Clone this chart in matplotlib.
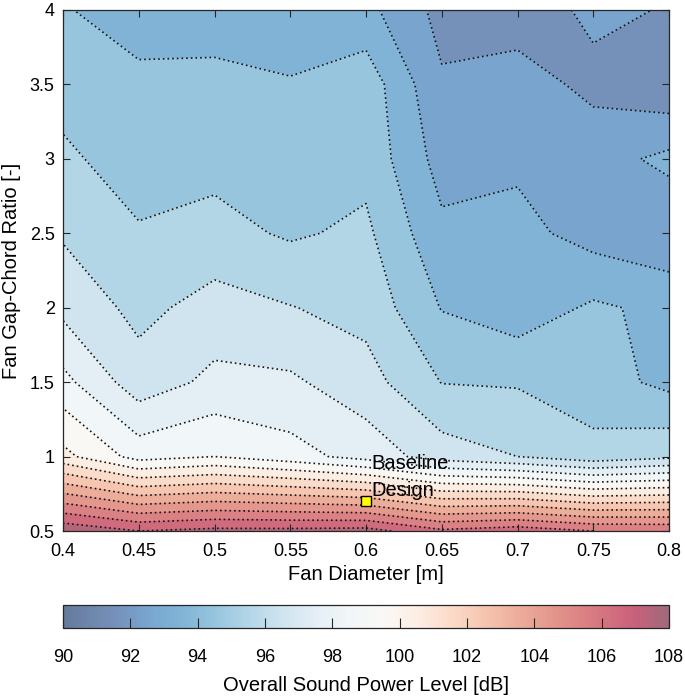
import matplotlib
matplotlib.use('Agg')
import matplotlib.pyplot as plt
import numpy as np
from matplotlib.colors import LinearSegmentedColormap, Normalize
from matplotlib.cm import ScalarMappable
from matplotlib.ticker import FormatStrFormatter

plt.rcParams['font.family'] = ['Liberation Sans', 'DejaVu Sans']

# Grid of the sweep
fan_diameter = [0.4, 0.45, 0.5, 0.55, 0.6, 0.65, 0.7, 0.75, 0.8]
gap_chord = [0.5, 1.0, 1.5, 2.0, 2.5, 3.0, 3.5, 4.0]

# Overall sound power level [dB] along fan diameter, one list per gap-chord ratio
spl_gc050 = [107.8, 107.0, 107.3, 107.3, 107.4, 106.2, 106.6, 106.0, 105.9]
spl_gc100 = [100.3, 98.6, 99.0, 98.4, 97.6, 96.5, 96.0, 95.34, 95.78]
spl_gc150 = [98.3, 96.43, 97.25, 97.17, 96.4, 94.97, 94.91, 94.44, 93.73]
spl_gc200 = [96.73, 95.71, 96.4, 96.04, 95.66, 93.95, 93.39, 94.16, 93.74]
spl_gc250 = [95.88, 95.1, 95.33, 94.87, 95.2, 93.22, 93.33, 92.59, 92.2]
spl_gc300 = [95.2, 94.5, 94.69, 94.5, 94.7, 92.6, 92.8, 92.58, 93.25]
spl_gc350 = [94.6, 94.15, 94.2, 94.1, 94.6, 92.12, 92.43, 91.75, 91.2]
spl_gc400 = [94.05, 93.7, 93.65, 93.2, 93.29, 91.68, 91.5, 92.2, 91.94]

# baseline design point
baseline_d = 0.6
baseline_gc = 0.7

spl_min, spl_max = 90, 108

# colour map (value, colour)
cmap_pts = [(90.0, '#667b9c'), (91.5, '#7590b9'), (92.5, '#79a5cf'), (93.5, '#80b4d6'),
            (94.5, '#96c5de'), (95.5, '#b3d6e7'), (96.5, '#cfe4ef'), (97.5, '#e4eff5'),
            (98.5, '#f1f6f8'), (99.5, '#f9f8f6'), (100.5, '#fdeee4'), (101.5, '#fbdccb'),
            (102.5, '#f6c6b1'), (103.5, '#edae9c'), (104.5, '#e4988d'), (105.5, '#db8183'),
            (106.5, '#cf6b7d'), (107.0, '#c8617a'), (108.0, '#a06a7a')]
cmap = LinearSegmentedColormap.from_list(
    'spl', [((v - spl_min) / (spl_max - spl_min), c) for v, c in cmap_pts])
norm = Normalize(spl_min, spl_max)

X, Y = np.meshgrid(fan_diameter, gap_chord)
Z = np.array([spl_gc050, spl_gc100, spl_gc150, spl_gc200,
              spl_gc250, spl_gc300, spl_gc350, spl_gc400])
levels = np.arange(spl_min, spl_max + 1, 1)

fig = plt.figure(figsize=(6.85, 6.97), dpi=100)
ax = fig.add_axes([63 / 685, 166 / 697, 606 / 685, 521 / 697])

ax.contourf(X, Y, Z, levels=levels, cmap=cmap, norm=norm)
ax.contour(X, Y, Z, levels=levels, colors='#151515', linestyles=[(0, (1, 1.8))], linewidths=1.2)

ax.plot(baseline_d, baseline_gc, 's', mfc='#ffff00', mec='k', ms=7, mew=1.0, zorder=5)
ax.text(0.6038, 0.916, 'Baseline', fontsize=14.5, va='baseline')
ax.text(0.6038, 0.735, 'Design', fontsize=14.5, va='baseline')

ax.set_xlim(0.4, 0.8)
ax.set_ylim(0.5, 4)
ax.set_xticks(fan_diameter)
ax.set_yticks(np.arange(0.5, 4.01, 0.5))
ax.xaxis.set_major_formatter(FormatStrFormatter('%g'))
ax.yaxis.set_major_formatter(FormatStrFormatter('%g'))
ax.tick_params(direction='in', top=True, right=True, length=5, width=0.8,
               color='#262626', labelsize=13)
ax.tick_params(axis='x', pad=9)
ax.tick_params(axis='y', pad=6)
for s in ax.spines.values():
    s.set_color('#262626')
    s.set_linewidth(0.9)
ax.set_xlabel('Fan Diameter [m]', fontsize=14.5, labelpad=3)
ax.set_ylabel('Fan Gap-Chord Ratio [-]', fontsize=14.5, labelpad=6)

# colour bar underneath
cax = fig.add_axes([63 / 685, 69 / 697, 606 / 685, 23 / 697])
sm = ScalarMappable(norm=norm, cmap=cmap)
cb = fig.colorbar(sm, cax=cax, orientation='horizontal')
cb.set_ticks(np.arange(spl_min, spl_max + 1, 2))
cax.tick_params(direction='in', length=7, width=0.8, color='#262626', labelsize=13, pad=15)
cb.outline.set_edgecolor('#262626')
cb.outline.set_linewidth(0.9)
cb.set_label('Overall Sound Power Level [dB]', fontsize=14.5, labelpad=7)

fig.savefig('out.png', dpi=100)
